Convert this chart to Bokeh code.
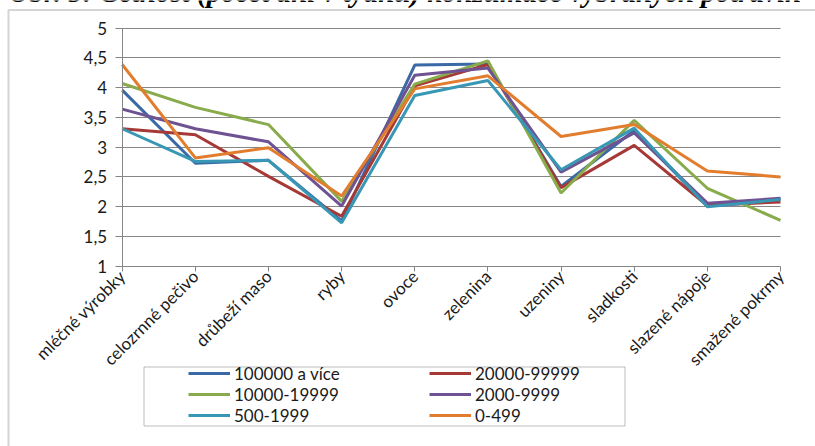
from bokeh.plotting import figure
from bokeh.models import (ColumnDataSource, FixedTicker, Legend, LegendItem,
                          BoxAnnotation, Label, Range1d, Grid)
from bokeh.embed import file_html
from bokeh.resources import INLINE

title_text = "Obr. 5: Četnost (počet dní v týdnu) konzumace vybraných potravin"

categories = ["mléčné výrobky", "celozrnné pečivo", "drůbeží maso", "ryby", "ovoce",
              "zelenina", "uzeniny", "sladkosti", "slazené nápoje", "smažené pokrmy"]

series_names = ["100000 a více", "20000-99999", "10000-19999", "2000-9999", "500-1999", "0-499"]
series_colors = ["#3A69A6", "#A63936", "#88AB4C", "#6E5291", "#3897B5", "#E27D2E"]

v_100000 = [3.96, 2.73, 2.78, 1.76, 4.38, 4.40, 2.34, 3.28, 2.01, 2.13]
v_20000 = [3.31, 3.21, 2.51, 1.84, 4.03, 4.39, 2.32, 3.03, 2.02, 2.08]
v_10000 = [4.07, 3.67, 3.38, 2.09, 4.06, 4.45, 2.23, 3.45, 2.31, 1.77]
v_2000 = [3.64, 3.31, 3.09, 2.01, 4.21, 4.33, 2.58, 3.24, 2.06, 2.14]
v_500 = [3.31, 2.76, 2.78, 1.73, 3.87, 4.12, 2.62, 3.32, 2.00, 2.12]
v_0 = [4.39, 2.82, 2.99, 2.18, 3.98, 4.20, 3.18, 3.38, 2.60, 2.50]
series_values = [v_100000, v_20000, v_10000, v_2000, v_500, v_0]

# legend is read row by row: (100000 a více, 20000-99999), (10000-19999, 2000-9999), ...
legend_order = [0, 2, 4, 1, 3, 5]

y_ticks = [1, 1.5, 2, 2.5, 3, 3.5, 4, 4.5, 5]
y_tick_labels = ["1", "1,5", "2", "2,5", "3", "3,5", "4", "4,5", "5"]

W, H = 815, 446
# frame covers the whole canvas; axes are fixed inside it
fx0, fx1 = 121.7, 780.0          # canvas x of first / last category
fy_top, fy_bot = 27.7, 265.7     # canvas y of value 5 / value 1
n = len(categories) - 1
ppx = (fx1 - fx0) / n
ppy = (fy_bot - fy_top) / 4.0
x_start = -fx0 / ppx
x_end = n + (W - fx1) / ppx
y_end = 5 + fy_top / ppy
y_start = 1 - (H - fy_bot) / ppy

p = figure(width=W, height=H, output_backend="svg", toolbar_location=None,
           x_range=Range1d(x_start, x_end), y_range=Range1d(y_start, y_end),
           min_border=0)
p.outline_line_color = None
p.background_fill_color = "white"
p.border_fill_color = "white"

axis_col = "#868686"
font = "Lato"

# x axis
p.xaxis.fixed_location = 1
p.xaxis.bounds = (0, n)
p.xaxis.ticker = FixedTicker(ticks=list(range(len(categories))))
p.xaxis.major_label_overrides = {i: c for i, c in enumerate(categories)}
p.xaxis.major_label_orientation = 0.785398
p.xaxis.major_label_text_font = font
p.xaxis.major_label_text_font_size = "17px"
p.xaxis.major_label_text_color = "#1a1a1a"
p.xaxis.axis_line_color = axis_col
p.xaxis.major_tick_line_color = axis_col
p.xaxis.major_tick_out = 5
p.xaxis.major_tick_in = 0
p.xaxis.minor_tick_line_color = None
p.xaxis.major_label_standoff = 2

# y axis
p.yaxis.fixed_location = 0
p.yaxis.bounds = (1, 5)
p.yaxis.ticker = FixedTicker(ticks=y_ticks)
p.yaxis.major_label_overrides = {t: l for t, l in zip(y_ticks, y_tick_labels)}
p.yaxis.major_label_text_font = font
p.yaxis.major_label_text_font_size = "17px"
p.yaxis.major_label_text_color = "#1a1a1a"
p.yaxis.axis_line_color = axis_col
p.yaxis.major_tick_line_color = axis_col
p.yaxis.major_tick_out = 7
p.yaxis.major_tick_in = 0
p.yaxis.minor_tick_line_color = None
p.yaxis.major_label_standoff = 8

p.xgrid.grid_line_color = None
if "cross_bounds" in Grid.properties():
    p.ygrid.grid_line_color = axis_col
    p.ygrid.cross_bounds = (0, n)
    p.ygrid.bounds = (1, 5)
else:
    p.ygrid.grid_line_color = None
    p.segment(x0=[0] * len(y_ticks), x1=[n] * len(y_ticks), y0=y_ticks, y1=y_ticks,
              line_color=axis_col, line_width=1)

xs = list(range(len(categories)))
renderers = []
for name, col, vals in zip(series_names, series_colors, series_values):
    src = ColumnDataSource(dict(x=xs, y=vals))
    r = p.line("x", "y", source=src, line_color=col, line_width=3)
    renderers.append(r)
items = [LegendItem(label=series_names[i], renderers=[renderers[i]]) for i in legend_order]

# outer chart border
p.add_layout(BoxAnnotation(left=8, right=3000, top=9.5, bottom=3000,
                           left_units="canvas", right_units="canvas",
                           top_units="canvas", bottom_units="canvas",
                           fill_alpha=0, line_color="#737373", line_width=2))

# legend frame
p.add_layout(BoxAnnotation(left=143.5, right=624.5, top=366.5, bottom=425.5,
                           left_units="canvas", right_units="canvas",
                           top_units="canvas", bottom_units="canvas",
                           fill_alpha=0, line_color="#222222", line_width=1))

legend = Legend(items=items, ncols=2, location=(188, 20.5), glyph_width=42,
                glyph_height=20, label_height=20, label_width=195, label_standoff=4,
                spacing=0, padding=0, margin=0, border_line_alpha=0,
                background_fill_alpha=0, label_text_font=font,
                label_text_font_size="17px", label_text_color="#1a1a1a")
p.add_layout(legend)

# title, cut off at the top edge as in the source picture
p.add_layout(Label(x=8, y=-9, x_units="canvas", y_units="canvas", text=title_text,
                   text_font="Liberation Serif", text_font_style="bold italic",
                   text_font_size="29px", text_baseline="alphabetic",
                   text_color="black"))

open("out.html", "w").write(file_html(p, INLINE))
